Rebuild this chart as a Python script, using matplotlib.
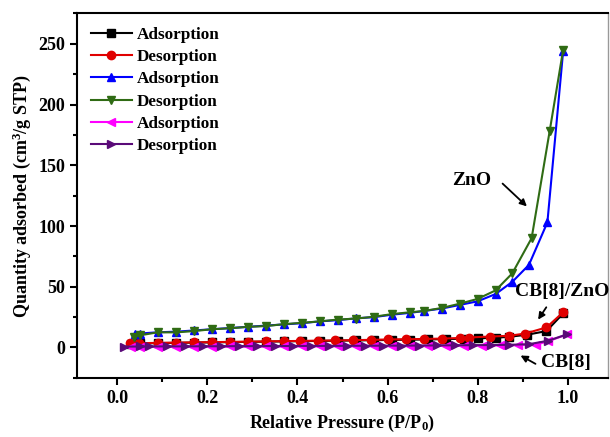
"""Nitrogen adsorption/desorption isotherms for ZnO, CB[8]/ZnO and CB[8]."""
import matplotlib
matplotlib.use("Agg")
import matplotlib.pyplot as plt
from matplotlib.ticker import MultipleLocator, FormatStrFormatter

plt.rcParams["font.family"] = "Liberation Serif"
plt.rcParams["font.weight"] = "bold"
plt.rcParams["mathtext.fontset"] = "custom"
plt.rcParams["mathtext.rm"] = "Liberation Serif:bold"
plt.rcParams["mathtext.it"] = "Liberation Serif:bold"
plt.rcParams["mathtext.bf"] = "Liberation Serif:bold"

# ZnO
zno_ads_p = [0.039, 0.05, 0.09, 0.13, 0.17, 0.21, 0.25, 0.29, 0.33, 0.37, 0.41, 0.45, 0.49,
             0.53, 0.57, 0.61, 0.65, 0.68, 0.72, 0.76, 0.80, 0.84, 0.877, 0.914, 0.955, 0.99]
zno_ads_q = [11, 11.5, 12.5, 13, 14, 15, 16, 17, 18, 19, 20, 21.5, 22.5,
             24, 25, 27, 28.5, 30, 32, 35, 38, 44, 54, 68, 103, 244]
zno_des_p = [0.99, 0.96, 0.92, 0.877, 0.84, 0.80, 0.76, 0.72, 0.68, 0.65, 0.61, 0.57, 0.53,
             0.49, 0.45, 0.41, 0.37, 0.33, 0.29, 0.25, 0.21, 0.17, 0.13, 0.09, 0.05, 0.038]
zno_des_q = [245, 178, 90, 61, 47, 40, 36, 32.5, 30, 29, 27.5, 25.3, 23.8,
             23, 21.5, 20.3, 19.2, 17.6, 17, 15.8, 15, 13.5, 12.4, 12.5, 10, 9]

# CB[8]/ZnO
cbz_ads_p = [0.03, 0.05, 0.09, 0.13, 0.17, 0.21, 0.25, 0.29, 0.33, 0.37, 0.41, 0.45, 0.49,
             0.53, 0.57, 0.61, 0.65, 0.69, 0.73, 0.77, 0.80, 0.84, 0.87, 0.91, 0.953, 0.99]
cbz_ads_q = [3, 3.3, 3.6, 3.8, 4, 4.2, 4.4, 4.6, 4.8, 5, 5.2, 5.4, 5.6,
             5.8, 6, 6.2, 6.4, 6.6, 6.9, 7.2, 7.5, 8, 8.8, 10.5, 13.5, 28]
cbz_des_p = [0.99, 0.953, 0.906, 0.87, 0.827, 0.78, 0.76, 0.72, 0.68, 0.64, 0.602, 0.563, 0.524,
             0.484, 0.445, 0.405, 0.37, 0.33, 0.29, 0.25, 0.21, 0.17, 0.13, 0.09, 0.047, 0.028]
cbz_des_q = [29, 16.5, 11.5, 9.6, 9, 8.2, 7.8, 7.3, 7, 6.8, 6.6, 6.3, 6,
             5.8, 5.6, 5.4, 5.2, 5, 4.8, 4.6, 4.4, 4.2, 4, 3.8, 3.5, 3.3]

# CB[8]
cb_ads_p = [0.03, 0.05, 0.09, 0.13, 0.17, 0.21, 0.25, 0.29, 0.33, 0.37, 0.41, 0.45, 0.49,
            0.53, 0.57, 0.61, 0.65, 0.69, 0.73, 0.77, 0.81, 0.85, 0.89, 0.93, 0.956, 0.998]
cb_ads_q = [0.5, 0.5, 0.6, 0.6, 0.7, 0.7, 0.8, 0.8, 0.9, 0.9, 1.0, 1.0, 1.1,
            1.1, 1.2, 1.2, 1.3, 1.3, 1.4, 1.5, 1.6, 1.8, 2.0, 2.4, 5.0, 10.7]
cb_des_p = [0.998, 0.956, 0.914, 0.87, 0.83, 0.79, 0.75, 0.71, 0.67, 0.63, 0.59, 0.55, 0.51,
            0.47, 0.43, 0.39, 0.35, 0.31, 0.27, 0.23, 0.19, 0.15, 0.11, 0.07, 0.05, 0.015]
cb_des_q = [10.7, 5.5, 2.7, 2.2, 2.0, 1.9, 1.8, 1.7, 1.6, 1.5, 1.5, 1.4, 1.4,
            1.3, 1.3, 1.2, 1.2, 1.1, 1.1, 1.0, 1.0, 0.9, 0.9, 0.8, 0.8, 0.7]

fig = plt.figure(figsize=(6.1, 4.37), dpi=100)
ax = fig.add_axes([0.126, 0.134, 0.871, 0.836])

kw = dict(lw=1.5, ms=6)
ax.plot(cbz_ads_p, cbz_ads_q, color="#000000", marker="s", label="Adsorption", **kw)
ax.plot(cbz_des_p, cbz_des_q, color="#e00000", marker="o", label="Desorption", **kw)
ax.plot(zno_ads_p, zno_ads_q, color="#0000ff", marker="^", label="Adsorption", **kw)
ax.plot(zno_des_p, zno_des_q, color="#2f6b14", marker="v", label="Desorption", **kw)
ax.plot(cb_ads_p, cb_ads_q, color="#ff00ff", marker="<", label="Adsorption", **kw)
ax.plot(cb_des_p, cb_des_q, color="#5a0a78", marker=">", label="Desorption", **kw)

ax.set_xlim(-0.09, 1.09)
ax.set_ylim(-25.5, 275.3)
ax.xaxis.set_major_locator(MultipleLocator(0.2))
ax.xaxis.set_minor_locator(MultipleLocator(0.1))
ax.yaxis.set_major_locator(MultipleLocator(50))
ax.yaxis.set_minor_locator(MultipleLocator(25))
ax.xaxis.set_major_formatter(FormatStrFormatter("%.1f"))
ax.tick_params(which="both", direction="out", width=1.5, labelsize=13)
ax.tick_params(which="major", length=5)
ax.tick_params(which="minor", length=3)
for s in ax.spines.values():
    s.set_linewidth(1.5)
ax.spines["right"].set_color("#999999")
ax.spines["right"].set_linewidth(1.0)

ax.set_xlabel("Relative Pressure (P/P$_0$)", fontsize=13, fontweight="bold")
ax.set_ylabel("Quantity adsorbed (cm$^3$/g STP)", fontsize=13, fontweight="bold")

ax.legend(loc="upper left", frameon=False, fontsize=12.3, handlelength=2.4,
          handletextpad=0.3, labelspacing=0.37, borderaxespad=0.4)

arrow = dict(arrowstyle="-|>", color="black", lw=1.3, mutation_scale=10)
ax.annotate("", xy=(0.914, 114.6), xytext=(0.851, 136.5), arrowprops=arrow)
ax.text(0.786, 137.3, "ZnO", fontsize=14, fontweight="bold", ha="center", va="center")
ax.annotate("", xy=(0.931, 21), xytext=(0.956, 35), arrowprops=arrow)
ax.text(0.987, 45.8, "CB[8]/ZnO", fontsize=14, fontweight="bold", ha="center", va="center")
ax.annotate("", xy=(0.89, -5.5), xytext=(0.934, -14.6), arrowprops=arrow)
ax.text(0.996, -12, "CB[8]", fontsize=14, fontweight="bold", ha="center", va="center")

fig.savefig("out.png", dpi=100)
